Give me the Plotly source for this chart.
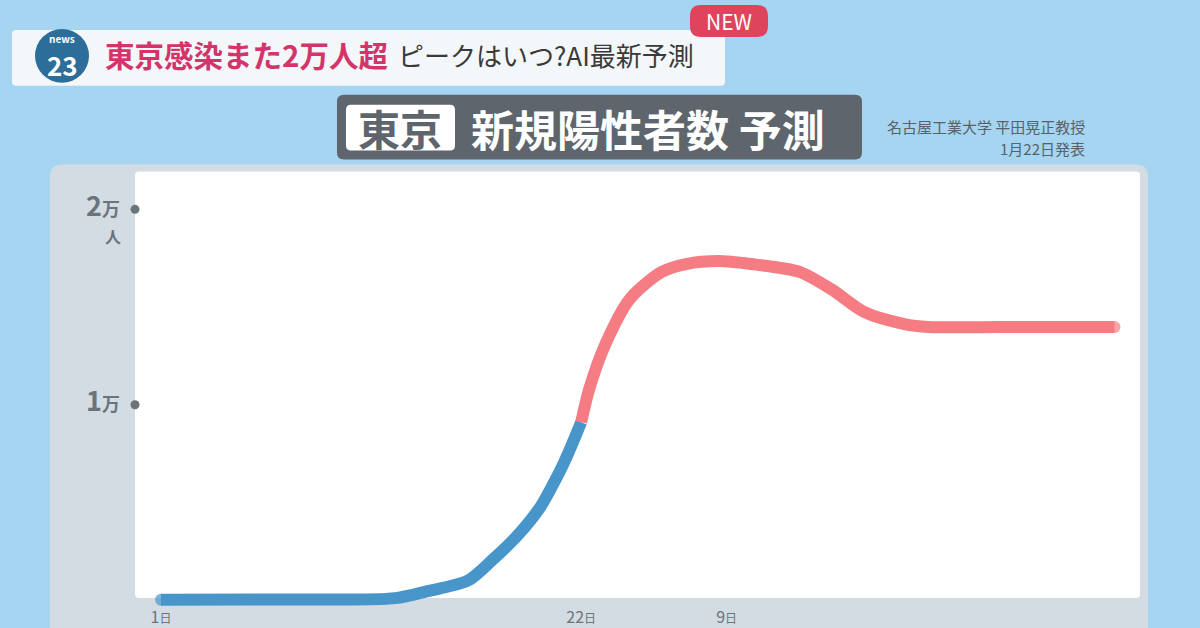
import plotly.graph_objects as go
import pandas as pd

W, H = 1200, 628
FONT = "Noto Sans CJK JP"

# ---- data ----
actual_dates = ["2021-12-01", "2021-12-15", "2021-12-30", "2022-01-03", "2022-01-08",
                "2022-01-11", "2022-01-14", "2022-01-17", "2022-01-19", "2022-01-20",
                "2022-01-21", "2022-01-22"]
actual_values = [20, 30, 100, 460, 1000, 2050, 3250, 4800, 6300, 7150, 8100, 9100]

forecast_dates = ["2022-01-22", "2022-01-23", "2022-01-25", "2022-01-28", "2022-02-01",
                  "2022-02-04", "2022-02-08", "2022-02-12", "2022-02-18", "2022-02-22",
                  "2022-02-26", "2022-03-03", "2022-03-06", "2022-03-15", "2022-03-29"]
forecast_values = [9100, 10800, 13100, 15400, 16800, 17200, 17350, 17200, 16800, 15900,
                   14750, 14130, 13980, 13980, 13980]

x_tick_dates = ["2021-12-01", "2022-01-22", "2022-02-09"]
x_tick_nums = ["1", "22", "9"]
x_tick_unit = "日"

y_tick_vals = [10000, 20000]
y_tick_nums = ["1", "2"]
y_tick_unit = "万"
y_unit_label = "人"

# ---- layout geometry (pixels) ----
PX_PER_DAY = 8.08
ORIGIN_PX = 161          # pixel x of 1日
DOM_L, DOM_R = 135, 1140
DOM_T, DOM_B = 172, 609
ZERO_PY = 602
PX_PER_UNIT = 196 / 10000

origin = pd.Timestamp(x_tick_dates[0])
x_start = origin - pd.Timedelta(days=(ORIGIN_PX - DOM_L) / PX_PER_DAY)
x_end = origin + pd.Timedelta(days=(DOM_R - ORIGIN_PX) / PX_PER_DAY)
y_lo = (ZERO_PY - DOM_B) / PX_PER_UNIT
y_hi = (ZERO_PY - DOM_T) / PX_PER_UNIT


def fx(x):
    return x / W


def fy(y):
    return 1 - y / H


def rrect(x0, y0, x1, y1, r):
    def p(x, y):
        return f"{fx(x):.5f},{fy(y):.5f}"
    return (f"M {p(x0 + r, y0)} L {p(x1 - r, y0)} Q {p(x1, y0)} {p(x1, y0 + r)} "
            f"L {p(x1, y1 - r)} Q {p(x1, y1)} {p(x1 - r, y1)} L {p(x0 + r, y1)} "
            f"Q {p(x0, y1)} {p(x0, y1 - r)} L {p(x0, y0 + r)} Q {p(x0, y0)} {p(x0 + r, y0)} Z")


BLUE = "#4896c9"
RED = "#f67c83"
GRAY_TXT = "#6b747b"
LW = 12

fig = go.Figure()

fig.add_trace(go.Scatter(
    x=actual_dates, y=actual_values, mode="lines+markers",
    line=dict(color=BLUE, width=LW, shape="spline", smoothing=0.8),
    marker=dict(color=BLUE, size=[LW] + [0] * (len(actual_values) - 1), line=dict(width=0)),
    hoverinfo="skip", showlegend=False))

fig.add_trace(go.Scatter(
    x=forecast_dates, y=forecast_values, mode="lines+markers",
    line=dict(color=RED, width=LW, shape="spline", smoothing=0.8),
    marker=dict(color=RED, size=[0] * (len(forecast_values) - 1) + [LW], line=dict(width=0)),
    hoverinfo="skip", showlegend=False))

# tick dots on the y axis
fig.add_trace(go.Scatter(
    x=[x_start] * len(y_tick_vals), y=y_tick_vals,
    mode="markers", marker=dict(color=GRAY_TXT, size=9), cliponaxis=False,
    hoverinfo="skip", showlegend=False))

shapes = [
    dict(type="path", path=rrect(50, 165, 1148, 660, 12), fillcolor="#d3dce3", line=dict(width=0)),
    dict(type="path", path=rrect(135, 172, 1140, 600, 4), fillcolor="#ffffff", line=dict(width=0)),
    dict(type="path", path=rrect(12, 30, 725, 86, 4), fillcolor="#f4f7f9", line=dict(width=0)),
    dict(type="circle", x0=fx(35), x1=fx(89), y0=fy(83), y1=fy(29), fillcolor="#2c6d9a",
         line=dict(width=0)),
    dict(type="path", path=rrect(690, 5, 768, 37, 11), fillcolor="#e0445d", line=dict(width=0)),
    dict(type="path", path=rrect(337, 95, 862, 160, 7), fillcolor="#5e656d", line=dict(width=0)),
    dict(type="path", path=rrect(346, 105, 455, 151, 5), fillcolor="#ffffff", line=dict(width=0)),
]
for s in shapes:
    s.update(xref="paper", yref="paper", layer="below")


def ann(x, y, text, size, color, anchor="center", bold=False):
    return dict(x=fx(x), y=fy(y), xref="paper", yref="paper", text=f"<b>{text}</b>" if bold else text,
                showarrow=False, xanchor=anchor, yanchor="middle", borderpad=0,
                font=dict(family=FONT, size=size, color=color))


annotations = [
    ann(62, 39, "news", 10, "#ffffff", bold=True),
    ann(62, 65, "23", 26, "#ffffff", bold=True),
    ann(104, 54, "東京感染また2万人超", 29.5, "#d3356b", anchor="left", bold=True),
    ann(397, 55, "ピークはいつ?AI最新予測", 26, "#3a3a3a", anchor="left"),
    ann(729, 21, "NEW", 21, "#ffffff"),
    ann(400, 128, "東京", 42, "#5e656d", bold=True),
    ann(470, 128, "新規陽性者数 予測", 43, "#ffffff", anchor="left", bold=True),
    ann(1086, 127, "名古屋工業大学 平田晃正教授", 15, "#5a6168", anchor="right"),
    ann(1086, 149, "1月22日発表", 15, "#5a6168", anchor="right"),
    ann(113, 237, y_unit_label, 16, GRAY_TXT, bold=True),
]

y_ticktext = [f'<b><span style="font-size:27px">{n}</span>{y_tick_unit}</b>' for n in y_tick_nums]
x_ticktext = [f'{n}<span style="font-size:12px">{x_tick_unit}</span>' for n in x_tick_nums]

fig.update_layout(
    width=W, height=H, autosize=False,
    margin=dict(l=0, r=0, t=0, b=0),
    paper_bgcolor="#a5d5f0", plot_bgcolor="rgba(0,0,0,0)",
    shapes=shapes, annotations=annotations,
    xaxis=dict(domain=[fx(DOM_L), fx(DOM_R)], range=[x_start, x_end], type="date",
               tickvals=x_tick_dates, ticktext=x_ticktext, showgrid=False, zeroline=False,
               showline=False, ticks="", ticklabelstandoff=-1,
               tickfont=dict(family=FONT, size=16, color=GRAY_TXT)),
    yaxis=dict(domain=[fy(DOM_B), fy(DOM_T)], range=[y_lo, y_hi],
               tickvals=y_tick_vals, ticktext=y_ticktext, showgrid=False, zeroline=False,
               showline=False, ticks="", ticklabelstandoff=14,
               tickfont=dict(family=FONT, size=18, color=GRAY_TXT)),
)

fig.write_html("out.html", config={"displayModeBar": False},
               post_script="document.body.style.margin='0';")
